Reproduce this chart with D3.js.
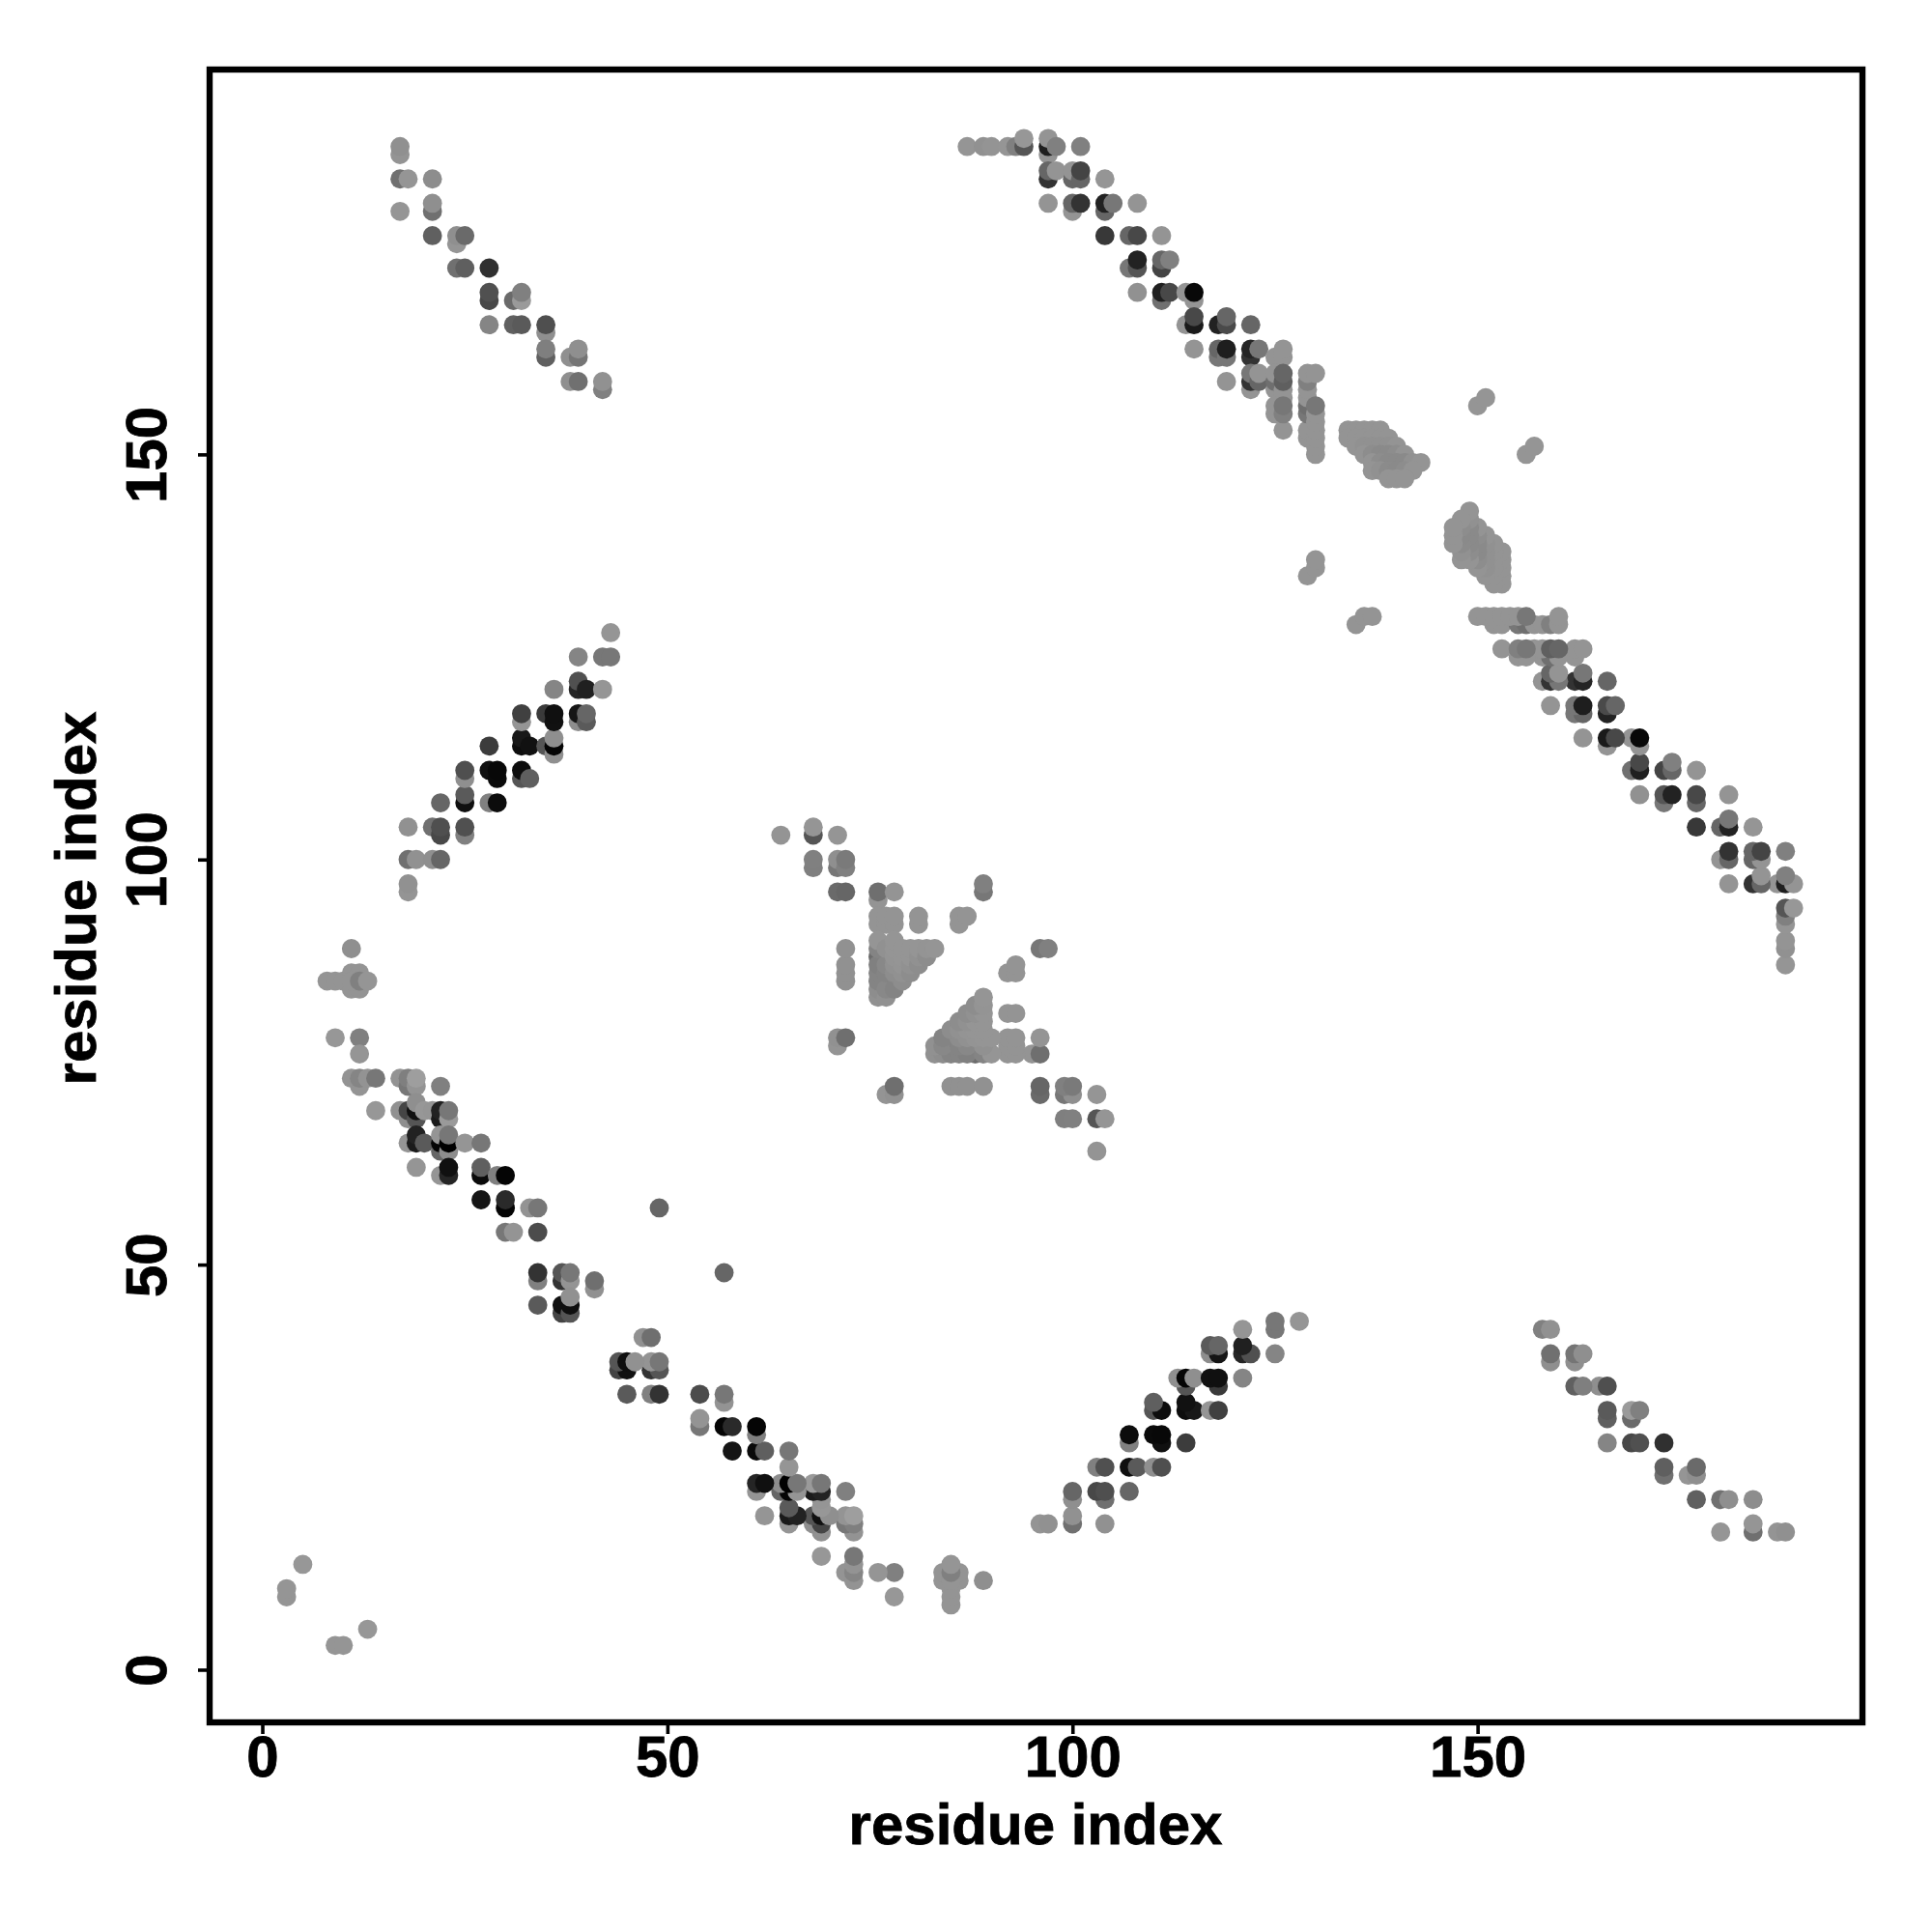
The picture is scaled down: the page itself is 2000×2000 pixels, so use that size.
<!DOCTYPE html>
<html>
<head>
<meta charset="utf-8">
<script src="https://d3js.org/d3.v7.min.js"></script>
<style>
html,body{margin:0;padding:0;background:#fff}
svg{display:block}
</style>
</head>
<body>
<svg id="chart" width="2000" height="2000"></svg>
<script>
// Contacts are read from the upper-left half (i < j); the map is symmetric, so each is also drawn as (j, i).
const tickValues = [0, 50, 100, 150];
const axisTitle = "residue index";

const farI = [17,17, 17,18,21, 21,21,17, 21,24,24,25, 24,25,28, 28,28,31,32,32, 28,31,32,35,35, 35,35,38,39,39, 38,39,42,42];
const farJ = [187,188, 184,184,184, 180,181,180, 177,176,177,177, 173,173,173, 169,170,169,169,170, 166,166,166,165,166, 162,163,162,162,163, 159,159,158,159];
const farShade = [0x94,0x90, 0x70,0x95,0x8d, 0x70,0x8f,0x95, 0x60,0x95,0x8f,0x6a, 0x70,0x5f,0x30, 0x48,0x50,0x6a,0x9a,0x80, 0x85,0x60,0x5a,0x8f,0x4f, 0x60,0x7f,0x8f,0x75,0x8f, 0x8f,0x70,0x80,0x91];

const sheetI = [18,18, 18,19,21,22, 18,21,22,22,25,25, 22,25,25,28,29, 25,25,28,29,29,32,32,33, 28,32,32,33,35,36,36,36, 32,32,35,36,36,39,39,40,40, 36,39,39,40,42, 39,42,43, 43];
const sheetJ = [96,97, 100,100,100,100, 104,104,103,104,103,104, 107,107,108,107,107, 110,111,111,110,111,110,111,110, 114,114,115,114,114,113,114,115, 117,118,118,117,118,117,118,117,118, 121,121,122,121,121, 125,125,125, 128];
const sheetShade = [0x94,0x91, 0x70,0x91,0x8f,0x66, 0x91,0x70,0x48,0x4f,0x80,0x50, 0x66,0x0f,0x5a,0x80,0x0c, 0x8f,0x4f,0x10,0x0a,0x08,0x55,0x0d,0x5f, 0x3c,0x0d,0x18,0x11,0x55,0x8f,0x05,0x8f, 0x95,0x40,0x3a,0x11,0x10,0x8d,0x15,0x5a,0x66, 0x85,0x25,0x50,0x20,0x95, 0x85,0x77,0x77, 0x95];

const bandI = [11, 8,9,10,11,12,11,12,11,12,13, 9,12,12, 12,11,12,13,14, 17,18,18,19,19,22, 14,17,18,18,19,19,19,20,21,22,22,23,23, 18,19,19,20,22,22,22,23,23,23,25,27, 19,22,23,23,27,27,29,30, 27,30,30,33,34,49, 30,31,34, 34,34,37,37,38,38,41,41, 34,37,37,38,38,38, 3,3,5];
const bandJ = [89, 85,85,85,84,84,86,86,85,85,85, 78,78,76, 72,73,73,73,73, 73,72,73,72,73,72, 69,69,68,69,68,69,70,69,69,68,69,68,69, 65,65,66,65,64,65,66,64,65,66,65,65, 62,61,61,62,61,62,61,61, 58,57,58,57,57,57, 54,54,54, 48,49,48,49,48,49,47,48, 45,44,45,44,45,46, 9,10,13];
const bandShade = [0x8f, 0x94,0x94,0x94,0x94,0x94,0x94,0x94,0x94,0x80,0x95, 0x97,0x80,0x95, 0x94,0x93,0x85,0x93,0x77, 0x93,0x77,0x7f,0x94,0x9e,0x80, 0x97,0x91,0x8f,0x45,0x55,0x10,0x8f,0x97,0x95,0x1a,0x22,0x9a,0x77, 0x95,0x1a,0x22,0x5a,0x66,0x05,0x95,0x8d,0x00,0x77,0x95,0x77, 0x95,0x95,0x25,0x10,0x0a,0x5f,0x80,0x05, 0x15,0x05,0x2a,0x93,0x77,0x66, 0x77,0x94,0x4c, 0x80,0x33,0x33,0x55,0x94,0x77,0x91,0x6f, 0x5a,0x44,0x11,0x55,0x0f,0x91, 0x95,0x95,0x97];

const crossI = [64,68,68,71, 68,68,71,71,72,72, 71,72,76,76,78, 89,89, 76,76,77,77,78,78,81,81,86,86,87, 72,72,72,72, 71,71,72];
const crossJ = [103,103,104,103, 99,100,99,100,99,100, 96,96,95,96,96, 96,97, 92,93,92,93,92,93,92,93,92,93,93, 85,86,87,89, 77,78,78];
const crossShade = [0x94,0x55,0x95,0x95, 0x7f,0x80,0x77,0x8f,0x80,0x7a, 0x6a,0x66,0x94,0x6f,0x94, 0x77,0x80, 0x94,0x94,0x94,0x94,0x94,0x94,0x94,0x94,0x94,0x94,0x94, 0x91,0x91,0x91,0x91, 0x94,0x91,0x6f];

const triangleI = [78,77,76,77, 76,76,76,76,76,76,76, 77,77,77,77,77, 78,78,78,78,78,78, 79,79,79,79,79, 80,80,80,80, 81,81,81, 82,82, 83];
const triangleJ = [85,85,88,88, 83,84,85,86,87,89,90, 83,84,86,87,89, 84,86,87,88,89,90, 85,86,87,88,89, 86,87,88,89, 87,88,89, 88,89, 89];
const triangleShade = [0x5c,0x66,0x6c,0x78, 0x91,0x8d,0x84,0x84,0x80,0x84,0x95, 0x91,0x88,0x84,0x88,0x91, 0x84,0x8d,0x91,0x94,0x95,0x95, 0x8d,0x91,0x94,0x95,0x95, 0x8d,0x91,0x95,0x95, 0x8d,0x91,0x95, 0x8d,0x94, 0x95];

const helixI = [87,89,90,92,93,94,94, 97,97,97,98,101, 97,97,98,100,100,101,101,104, 97,100,100,101,104,104,105,108, 104,107,108,111, 107,108,108,111,111,112, 108,111,111,112,114,115,115, 114,115,115,118,119,119,122, 115,118,118,119,119,122,122,123,125,126,126, 119,122,122,122,123,123,125,125,125,126,126,126,126, 125,125,126,126,126, 129,129,129,129,129,129,129,129, 130,130,130,130,130,130,130,130];
const helixJ = [188,188,188,188,188,188,189, 187,188,189,188,188, 184,185,185,184,185,184,185,184, 181,180,181,181,180,181,181,181, 177,177,177,177, 173,173,174,173,174,174, 170,169,170,170,170,169,170, 166,166,167,166,166,167,166, 163,162,163,162,163,162,163,163,162,162,163, 159,158,159,160,159,160,158,159,160,157,158,159,160, 155,156,153,155,156, 152,153,155,156,157,158,159,160, 150,151,152,153,154,155,156,160];
const helixShade = [0x95,0x91,0x94,0x95,0x80,0x55,0x97, 0x94,0x1f,0x94,0x80,0x80, 0x33,0x66,0x94,0x66,0x94,0x66,0x44,0x95, 0x94,0x94,0x66,0x33,0x66,0x22,0x77,0x94, 0x38,0x66,0x48,0x94, 0x77,0x55,0x22,0x44,0x66,0x80, 0x91,0x70,0x20,0x48,0x94,0x94,0x08, 0x94,0x1a,0x48,0x22,0x4a,0x66,0x66, 0x94,0x77,0x66,0x77,0x1e,0x33,0x25,0x77,0x94,0x94,0x94, 0x94,0x94,0x33,0x77,0x66,0x94,0x94,0x6f,0x94,0x94,0x94,0x5f,0x66, 0x94,0x94,0x94,0x80,0x77, 0x94,0x94,0x77,0x6f,0x94,0x94,0x80,0x94, 0x94,0x94,0x94,0x94,0x94,0x94,0x77,0x94];

const clusterI = [134,135,136,137,138, 134,135,136,137,138,139, 135,136,137,138,139,140, 136,137,138,139,140,141, 137,138,139,140,141,142,143, 137,138,139,140,141,142, 139,140,141];
const clusterJ = [153,153,153,153,153, 152,152,152,152,152,152, 151,151,151,151,151,151, 150,150,150,150,150,150, 149,149,149,149,149,149,149, 148,148,148,148,148,148, 147,147,147];
const clusterShade = [0x94,0x94,0x94,0x94,0x94, 0x94,0x94,0x94,0x94,0x94,0x94, 0x94,0x91,0x91,0x91,0x91,0x94, 0x94,0x8d,0x8a,0x8a,0x8d,0x94, 0x94,0x8d,0x8a,0x8a,0x8a,0x91,0x94, 0x94,0x91,0x8b,0x8a,0x8d,0x94, 0x94,0x94,0x94];

const strayI = [129,130,130,150,151];
const strayJ = [135,136,137,156,157];
const strayShade = [0x94,0x94,0x94,0x95,0x95];

const groups = [
  ["far", farI, farJ, farShade],
  ["sheet", sheetI, sheetJ, sheetShade],
  ["band", bandI, bandJ, bandShade],
  ["cross", crossI, crossJ, crossShade],
  ["triangle", triangleI, triangleJ, triangleShade],
  ["helix", helixI, helixJ, helixShade],
  ["cluster", clusterI, clusterJ, clusterShade],
  ["stray", strayI, strayJ, strayShade]
];

const contacts = [];
groups.forEach(([name, is, js, shades]) => {
  if (is.length !== js.length || is.length !== shades.length) {
    throw new Error(name + " lengths " + is.length + " " + js.length + " " + shades.length);
  }
  is.forEach((v, k) => contacts.push({x: v, y: js[k], s: shades[k]}));
});
const mirrored = contacts.map(d => ({x: d.y, y: d.x, s: d.s}));

const svg = d3.select("#chart");
const left = 217, right = 1928, top_ = 72, bottom = 1783;
const x = d3.scaleLinear().domain([-6.5, 197.5]).range([left, right]);
const y = d3.scaleLinear().domain([-6.5, 197.5]).range([bottom, top_]);

svg.append("rect").attr("width", 2000).attr("height", 2000).attr("fill", "#fff");

svg.append("g").selectAll("circle")
  .data(contacts.concat(mirrored))
  .join("circle")
  .attr("cx", d => x(d.x))
  .attr("cy", d => y(d.y))
  .attr("r", 9.9)
  .attr("fill", d => d3.rgb(d.s, d.s, d.s).formatHex());

svg.append("rect")
  .attr("x", left).attr("y", top_)
  .attr("width", right - left).attr("height", bottom - top_)
  .attr("fill", "none").attr("stroke", "#000").attr("stroke-width", 6.4);

const font = "'Liberation Sans', Arial, sans-serif";

const xAxis = d3.axisBottom(x).tickValues(tickValues).tickSize(12).tickFormat(d3.format("d"));
const gx = svg.append("g").attr("transform", `translate(0,${bottom})`).call(xAxis);
const yAxis = d3.axisLeft(y).tickValues(tickValues).tickSize(12).tickFormat(d3.format("d"));
const gy = svg.append("g").attr("transform", `translate(${left},0)`).call(yAxis);

[gx, gy].forEach(g => {
  g.select(".domain").remove();
  g.selectAll("line").attr("stroke", "#000").attr("stroke-width", 3.6);
  g.selectAll("text").attr("fill", "#000").attr("stroke", "#000").attr("stroke-width", 0.8)
    .style("font-family", font).style("font-weight", "bold").style("font-size", "60px");
});
gx.selectAll("text").attr("dy", 0).attr("text-anchor", "middle").attr("y", 1839 - bottom);
gy.selectAll("text").attr("dy", 0).attr("text-anchor", "middle")
  .attr("x", 0).attr("y", 0)
  .attr("transform", `translate(${172 - left},0) rotate(-90)`);

svg.append("text")
  .attr("x", 1072).attr("y", 1909)
  .attr("text-anchor", "middle")
  .attr("stroke", "#000").attr("stroke-width", 0.8)
  .style("font-family", font).style("font-weight", "bold").style("font-size", "60px")
  .text(axisTitle);

svg.append("text")
  .attr("transform", "translate(99,930) rotate(-90)")
  .attr("text-anchor", "middle")
  .attr("stroke", "#000").attr("stroke-width", 0.8)
  .style("font-family", font).style("font-weight", "bold").style("font-size", "60px")
  .text(axisTitle);
</script>
</body>
</html>
